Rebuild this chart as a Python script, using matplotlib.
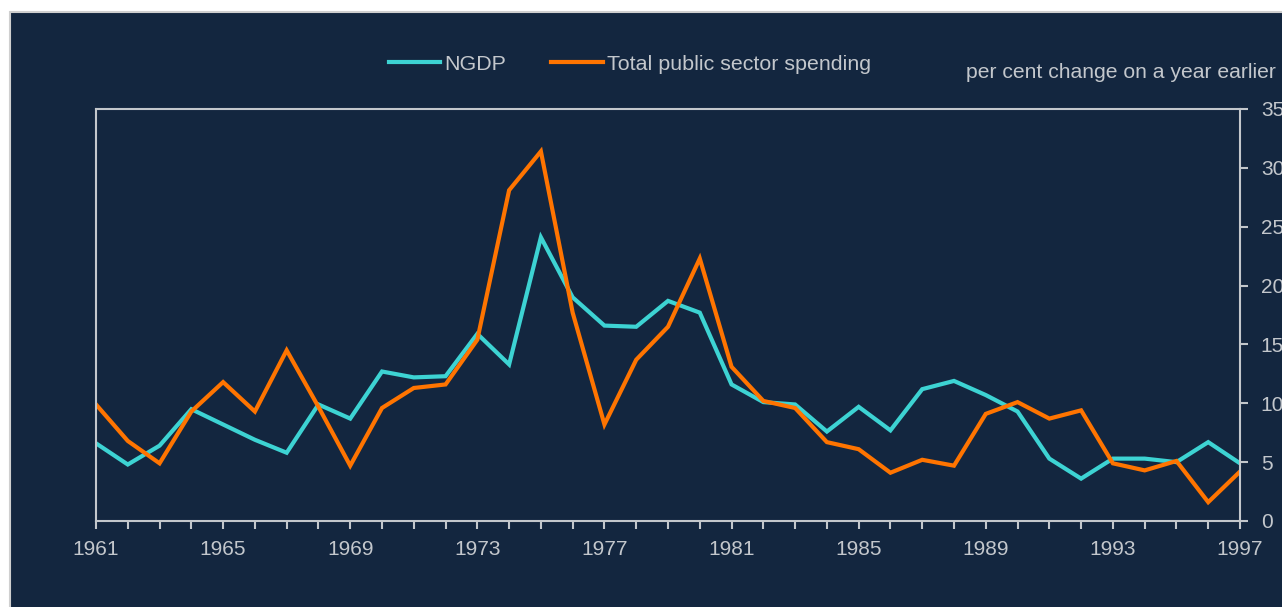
import matplotlib
matplotlib.use("Agg")
from matplotlib import pyplot as plt
from matplotlib.patches import Rectangle
from matplotlib.ticker import MultipleLocator

plt.rcParams['font.family'] = ['Liberation Sans', 'DejaVu Sans']

years = list(range(1961, 1998))

ngdp = [6.6, 4.8, 6.4, 9.5, 8.2, 6.9, 5.8, 9.9, 8.7, 12.7,
        12.2, 12.3, 15.9, 13.3, 24.1, 19.0, 16.6, 16.5, 18.7, 17.7,
        11.6, 10.1, 9.9, 7.6, 9.7, 7.7, 11.2, 11.9, 10.7, 9.3,
        5.3, 3.6, 5.3, 5.3, 5.0, 6.7, 4.9]

spending = [9.9, 6.8, 4.9, 9.3, 11.8, 9.3, 14.5, 9.7, 4.7, 9.6,
            11.3, 11.6, 15.4, 28.1, 31.4, 17.7, 8.2, 13.7, 16.5, 22.3,
            13.1, 10.2, 9.6, 6.7, 6.1, 4.1, 5.2, 4.7, 9.1, 10.1,
            8.7, 9.4, 4.9, 4.3, 5.1, 1.6, 4.2]

navy = '#13263f'
grey = '#c3c7cc'
cyan = '#3dd3d3'
orange = '#ff7400'

fig = plt.figure(figsize=(12.82, 6.07), dpi=100, facecolor='white')

# dark panel behind the chart
W, H = 1282, 607
fig.patches.append(Rectangle((10 / W, -0.01), 1.0, 1 - 12 / H + 0.01,
                             transform=fig.transFigure, facecolor=navy,
                             edgecolor='#cfcfcf', linewidth=1.5, zorder=-10))

ax = fig.add_axes([96 / W, 1 - 521 / H, (1240 - 96) / W, (521 - 109) / H])
ax.set_facecolor(navy)

l1, = ax.plot(years, ngdp, color=cyan, lw=3, solid_joinstyle='miter', label='NGDP')
l2, = ax.plot(years, spending, color=orange, lw=3, solid_joinstyle='miter',
              label='Total public sector spending')

ax.set_xlim(1961, 1997)
ax.set_ylim(0, 35)
ax.set_xticks(range(1961, 1998, 4))
ax.xaxis.set_minor_locator(MultipleLocator(1))
ax.yaxis.set_major_locator(MultipleLocator(5))
ax.yaxis.tick_right()

for side in ax.spines.values():
    side.set_color(grey)
    side.set_linewidth(1.5)

ax.tick_params(axis='both', which='both', colors=grey, labelcolor=grey,
               labelsize=15, direction='out', width=1.5)
ax.tick_params(axis='x', which='both', length=6, pad=8)
ax.tick_params(axis='y', length=6, pad=9)

leg = fig.legend(handles=[l1, l2], loc='center', bbox_to_anchor=(630 / W, 1 - 64 / H),
                 ncol=2, frameon=False, fontsize=15.4, labelcolor=grey,
                 handlelength=2.4, handletextpad=0.2, columnspacing=2.1)

fig.text(1276 / W, 1 - 72 / H, 'per cent change on a year earlier', color=grey,
         fontsize=15.2, ha='right', va='center')

fig.savefig('out.png', dpi=100, facecolor=fig.get_facecolor())
